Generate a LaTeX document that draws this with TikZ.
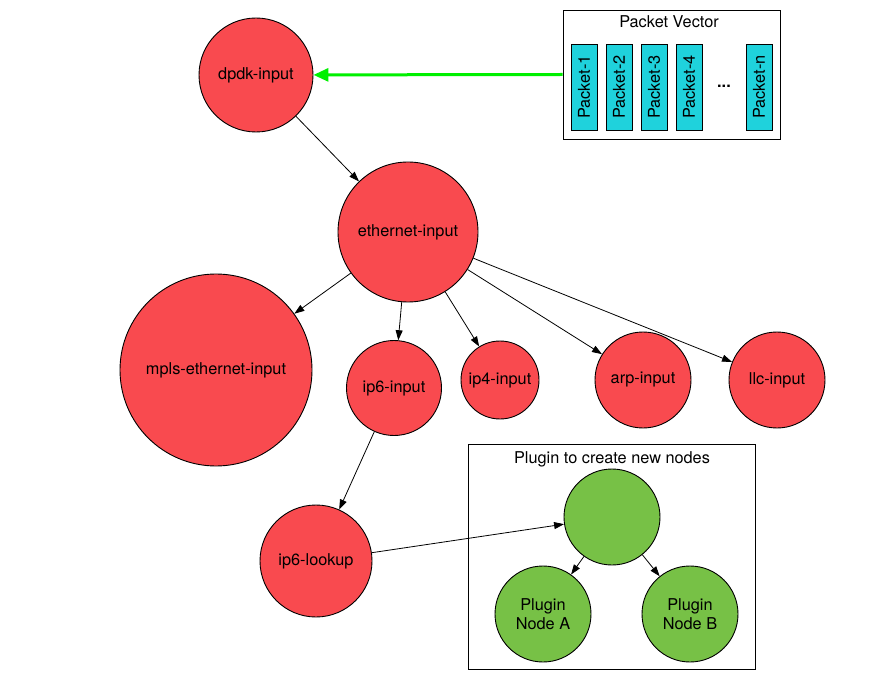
\documentclass[tikz,border=0pt]{standalone}
\usepackage{fontspec}
\setmainfont{TeX Gyre Heros}
\usetikzlibrary{arrows.meta}
\definecolor{nred}{HTML}{F94A4F}
\definecolor{ngreen}{HTML}{77C146}
\definecolor{pcyan}{HTML}{1FD2DC}
\definecolor{agreen}{HTML}{00F000}
\tikzset{
  redn/.style={circle,draw=black,line width=0.9pt,fill=nred,inner sep=0pt,minimum size=#1,font=\fontsize{16.3}{18}\selectfont,align=center},
  greenn/.style={circle,draw=black,line width=0.9pt,fill=ngreen,inner sep=0pt,minimum size=#1,font=\fontsize{16.3}{19}\selectfont,align=center},
  conn/.style={line width=0.8pt,-{Triangle[length=10pt,width=7pt]}},
  frame/.style={draw=black,line width=0.9pt,fill=white,inner sep=0pt},
  pkt/.style={draw=black,line width=0.7pt,fill=pcyan,inner sep=0pt,minimum width=26pt,minimum height=86pt,font=\fontsize{16.3}{18}\selectfont},
  ttl/.style={font=\fontsize{16.3}{18}\selectfont,inner sep=0pt}
}
\begin{document}
\begin{tikzpicture}[x=1pt,y=-1pt]
\useasboundingbox[fill=white] (0,0) rectangle (883,692);
% Packet vector frame
\node[frame,minimum width=217pt,minimum height=129pt] (pv) at (671.5,74.5) {};
\node[ttl] (pvt) at (669,22) {Packet Vector};
\node[pkt] (p1) at (584,87) {\rotatebox{90}{Packet-1}};
\node[pkt] (p2) at (619,87) {\rotatebox{90}{Packet-2}};
\node[pkt] (p3) at (654,87) {\rotatebox{90}{Packet-3}};
\node[pkt] (p4) at (689,87) {\rotatebox{90}{Packet-4}};
\node[ttl] (pd) at (724,86) {\textbf{...}};
\node[pkt] (pn) at (759,87) {\rotatebox{90}{Packet-n}};
% Plugin frame
\node[frame,minimum width=287pt,minimum height=225pt] (pf) at (611.5,556.5) {};
\node[ttl] (pft) at (612,459) {Plugin to create new nodes};
% red nodes
\node[redn=114pt] (dpdk) at (256,75) {dpdk-input};
\node[redn=140pt] (eth) at (408,232) {ethernet-input};
\node[redn=192pt] (mpls) at (216,370) {mpls-ethernet-input};
\node[redn=95pt] (ip6) at (394,388) {ip6-input};
\node[redn=78pt] (ip4) at (500,380) {ip4-input};
\node[redn=96pt] (arp) at (643,380) {arp-input};
\node[redn=96pt] (llc) at (777,380) {llc-input};
\node[redn=112pt] (lookup) at (316,561) {ip6-lookup};
% green nodes
\node[greenn=96pt] (gp) at (612,517) {};
\node[greenn=96pt] (ga) at (543,614) {Plugin\\Node A};
\node[greenn=96pt] (gb) at (690,614) {Plugin\\Node B};
% connectors
\draw[agreen,line width=3pt,-{Triangle[length=15pt,width=13pt]}] (pv.west) -- (dpdk);
\draw[conn] (dpdk) -- (eth);
\draw[conn] (eth) -- (mpls);
\draw[conn] (eth) -- (ip6);
\draw[conn] (eth) -- (ip4);
\draw[conn] (eth) -- (arp);
\draw[conn] (eth) -- (llc);
\draw[conn] (ip6) -- (lookup);
\draw[conn] (lookup) -- (gp);
\draw[conn] (gp) -- (ga);
\draw[conn] (gp) -- (gb);
\end{tikzpicture}
\end{document}
